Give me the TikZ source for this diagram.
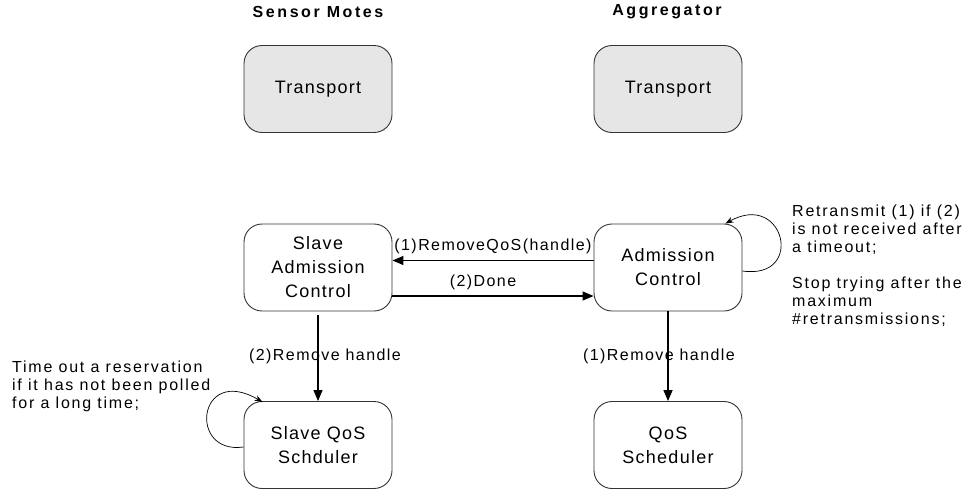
\documentclass[tikz,border=0pt]{standalone}
\usepackage{fontspec}
\setmainfont{Liberation Sans}
\newfontfamily\boxface[LetterSpace=7]{Liberation Sans}
\newfontfamily\noteface[LetterSpace=11]{Liberation Sans}
\newfontfamily\lblface[LetterSpace=9]{Liberation Sans}
\newfontfamily\headface[LetterSpace=16]{Liberation Sans}
\usetikzlibrary{arrows.meta}
\definecolor{panelgray}{HTML}{E6E6E6}
\definecolor{edgegray}{HTML}{333333}
\begin{document}
\begin{tikzpicture}[x=1pt,y=-1pt,
  box/.style={draw=edgegray, line width=0.9pt, rounded corners=18pt,
    minimum width=148pt, minimum height=87pt, align=center, inner sep=0pt,
    font=\boxface\fontsize{18}{24}\selectfont},
  shaded/.style={box, fill=panelgray},
  header/.style={font=\headface\bfseries\fontsize{16}{19}\selectfont},
  note/.style={align=left, inner sep=0pt,
    font=\noteface\fontsize{16}{18}\selectfont},
  lbl/.style={inner sep=0pt, font=\lblface\fontsize{16}{18}\selectfont},
  msg/.style={line width=1.3pt, -{Triangle[length=11pt,width=9pt]}},
  selfloop/.style={line width=0.7pt, -{Stealth[length=8pt,width=6pt]}}]
\useasboundingbox (0,0) rectangle (966,496);

% column headings
\node[header] (hsm) at (318,12) {Sensor Motes};
\node[header] (hag) at (667,12) {Aggregator};

% transport layers
\node[shaded] (tl) at (318,89) {Transport};
\node[shaded] (tr) at (668,89) {Transport};

% admission control
\node[box] (sac) at (318,267.5) {Slave\\Admission\\Control};
\node[box] (adm) at (668,267.5) {Admission\\Control};

% schedulers
\node[box] (sqs) at (318,445) {Slave QoS\\Schduler};
\node[box] (qs)  at (668,445) {QoS\\Scheduler};

% messages between the admission controllers
\draw[msg] ([yshift=7pt]adm.west) -- node[lbl, above=6pt] (m1) {(1)RemoveQoS(handle)} ([yshift=7pt]sac.east);
\draw[msg] ([yshift=-28.5pt]sac.east) -- node[lbl, above=6pt, xshift=-10pt] (m2) {(2)Done} ([yshift=-28.5pt]adm.west);

% handle removal towards the schedulers
\draw[msg, shorten <=4pt] (sac.south) -- node[lbl, xshift=7pt] (m3) {(2)Remove handle} (sqs.north);
\draw[msg] (adm.south) -- node[lbl, xshift=-9pt] (m4) {(1)Remove handle} (qs.north);

% retransmission loop
\draw[selfloop] ([yshift=-3.5pt]adm.east) .. controls +(63,9) and +(59,-33) .. ([xshift=-17pt]adm.north east);

% reservation timeout loop
\draw[selfloop] ([yshift=-2pt]sqs.west) .. controls +(-56,8) and +(-65,-38) .. ([xshift=19pt,yshift=-1pt]sqs.north west);

% annotations
\node[note, anchor=west] (n1) at (792,230) {Retransmit (1) if (2)\\is not received after\\a timeout;};
\node[note, anchor=west] (n2) at (792,302) {Stop trying after the\\maximum\\\#retransmissions;};
\node[note, anchor=west] (n3) at (12,386) {Time out a reservation\\if it has not been polled\\for a long time;};
\end{tikzpicture}
\end{document}
